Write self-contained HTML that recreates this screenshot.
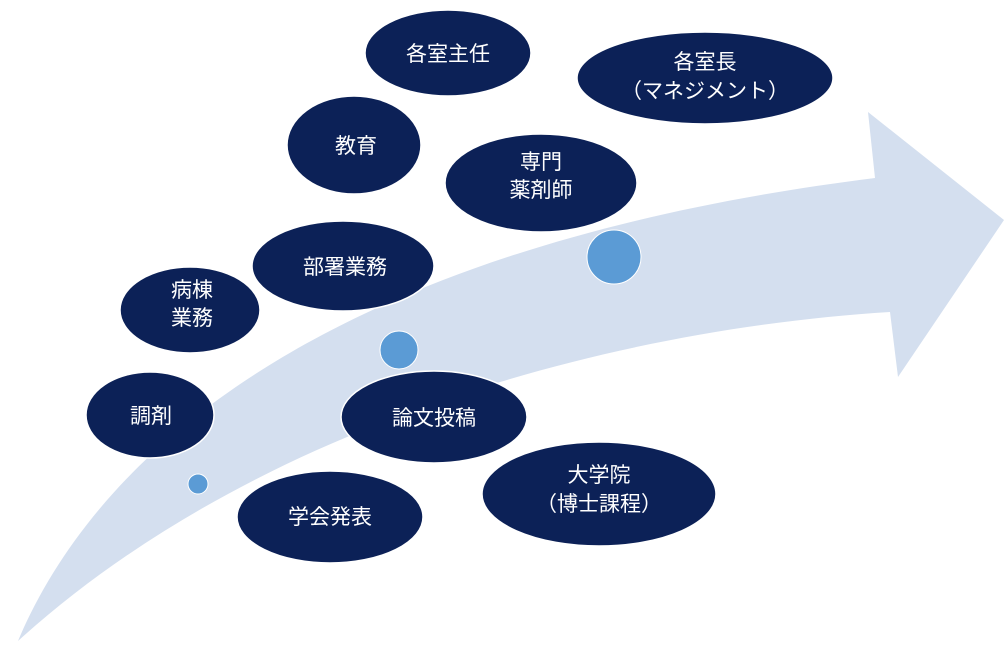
<!DOCTYPE html>
<html><head><meta charset="utf-8"><style>
html,body{margin:0;padding:0;background:#fff;}
svg{display:block;}
text{font-family:"Liberation Sans","Noto Sans CJK JP",sans-serif;fill:#fff;font-size:21px;text-anchor:middle;}
</style></head><body>
<svg width="1007" height="650" viewBox="0 0 1007 650" xmlns="http://www.w3.org/2000/svg">
<path d="M18,641 C90,470 300,250 875,178 L868,112 L1004,220 L898,377 L890,312 C600,330 250,430 18,641 Z" fill="#d4dfef"/>
<g fill="#0c2157" stroke="#fff" stroke-width="1.5">
<ellipse cx="448" cy="53" rx="83" ry="43"/>
<ellipse cx="705" cy="78" rx="128" ry="46"/>
<ellipse cx="354" cy="145" rx="67" ry="49"/>
<ellipse cx="541" cy="183" rx="96" ry="49"/>
<ellipse cx="343" cy="266" rx="91" ry="45"/>
<ellipse cx="190" cy="310" rx="70" ry="43"/>
<ellipse cx="150" cy="415" rx="64" ry="43"/>
<ellipse cx="434" cy="417" rx="93" ry="46"/>
<ellipse cx="599" cy="494" rx="117" ry="52"/>
<ellipse cx="330" cy="517" rx="93" ry="46"/>
</g>
<g fill="#5b9bd5" stroke="#fff" stroke-width="1">
<ellipse cx="614" cy="257" rx="27" ry="27"/>
<ellipse cx="399" cy="350" rx="19" ry="19"/>
<ellipse cx="198" cy="484" rx="10" ry="10"/>
</g>
<text x="448" y="61">各室主任</text>
<text x="705" y="69">各室長</text>
<text x="705" y="98">（マネジメント）</text>
<text x="356" y="153">教育</text>
<text x="541" y="169">専門</text>
<text x="541" y="197">薬剤師</text>
<text x="345" y="274">部署業務</text>
<text x="192" y="297">病棟</text>
<text x="192" y="325">業務</text>
<text x="151" y="423">調剤</text>
<text x="434" y="425">論文投稿</text>
<text x="599" y="482">大学院</text>
<text x="599" y="511">（博士課程）</text>
<text x="330" y="524">学会発表</text>
</svg>
</body></html>
